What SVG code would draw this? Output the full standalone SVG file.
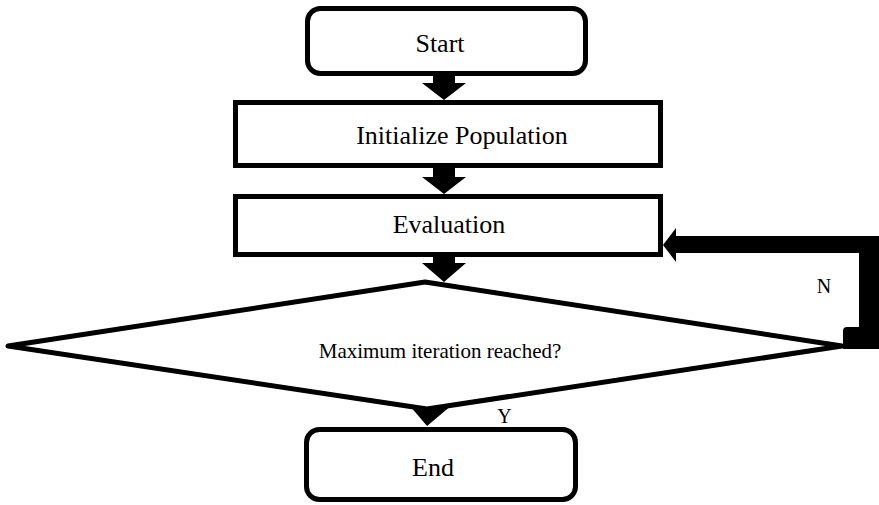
<svg xmlns="http://www.w3.org/2000/svg" width="879" height="505" viewBox="0 0 879 505">
<style>
.box{fill:#fff;stroke:#000;stroke-width:5}
.dia{fill:#fff;stroke:#000;stroke-width:5;stroke-linejoin:round}
.t{font-family:"Liberation Serif","Times New Roman",serif;fill:#000;text-anchor:middle}
.big{font-size:26px}
.mid{font-size:21px}
.lab{font-size:20px}
.arr{fill:#000;stroke:none}
</style>
<rect width="879" height="505" fill="#fff"/>
<g id="decision">
<polygon class="dia" points="8,346 425,282 842,346 427,409"/>
<text class="t mid" x="440" y="358">Maximum iteration reached?</text>
</g>
<g id="start">
<rect class="box" x="307.5" y="8.5" width="278" height="65" rx="13"/>
<text class="t big" x="440" y="52">Start</text>
</g>
<g id="init">
<rect class="box" x="235.5" y="102.5" width="425" height="63"/>
<text class="t big" x="462" y="144">Initialize Population</text>
</g>
<g id="eval">
<rect class="box" x="235.5" y="196.5" width="425" height="58"/>
<text class="t big" x="449" y="233">Evaluation</text>
</g>
<g id="end">
<rect class="box" x="306.5" y="429.5" width="269" height="70" rx="13"/>
<text class="t big" x="433" y="476">End</text>
</g>
<g id="connectors">
<polygon class="arr" points="433,76 455,76 455,83 466,83 444,100 422,83 433,83"/>
<polygon class="arr" points="433,168 455,168 455,177 466,177 444,194 422,177 433,177"/>
<polygon class="arr" points="433,257 455,257 455,263 466,263 444,282 422,263 433,263"/>
<polygon class="arr" points="410,406 427,409 452,405 427,426"/>
<path class="arr" d="M663,245 L676,228 L676,236 L879,236 L879,349 L843,349 L843,331 Q843,327 847,327 L859,327 L859,253 L676,253 L676,262 Z"/>
<text class="t lab" x="824" y="293">N</text>
<text class="t lab" x="504.5" y="423">Y</text>
</g>
</svg>
